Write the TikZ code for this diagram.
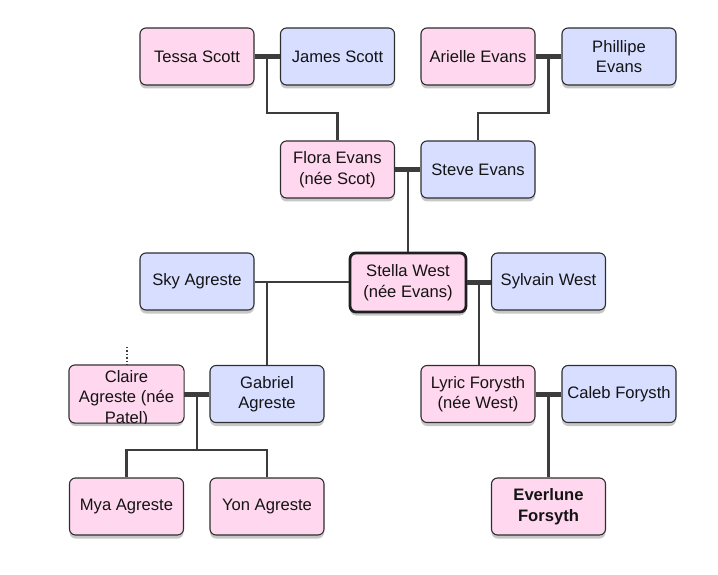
\documentclass[tikz,border=0pt]{standalone}
\usepackage{fontspec}
\setmainfont{Liberation Sans}
\usetikzlibrary{calc,shadows}
\definecolor{pinkf}{HTML}{FFD7EE}
\definecolor{bluef}{HTML}{D7DEFF}
\definecolor{edgec}{HTML}{2E2E2E}
\definecolor{linec}{HTML}{3C3C3C}
\definecolor{textc}{HTML}{141414}
\begin{document}
\begin{tikzpicture}[x=1pt,y=-1pt,
  person/.style={draw=edgec, line width=1.1pt, rounded corners=6pt,
    minimum width=114pt, minimum height=57pt, inner sep=0pt, align=center,
    text=textc, font=\fontsize{16.6}{20.5}\selectfont,
    drop shadow={shadow xshift=0pt, shadow yshift=-3.5pt, opacity=0.22, fill=black}},
  female/.style={person, fill=pinkf},
  male/.style={person, fill=bluef},
  focus/.style={line width=2.8pt, draw=black!88, minimum width=116pt, minimum height=59pt},
  couple/.style={draw=linec, line width=5pt},
  kin/.style={draw=linec, line width=2.2pt},
  weak/.style={draw=linec, line width=2pt}]
\useasboundingbox (0,0) rectangle (718,575);

% generation 1
\node[female] (tessa) at (197,56.5) {Tessa Scott};
\node[male] (james) at (337.5,56.5) {James Scott};
\node[female] (arielle) at (478,56.5) {Arielle Evans};
\node[male] (phillipe) at (619,56.5) {Phillipe\\Evans};
% generation 2
\node[female] (flora) at (337.5,169.5) {Flora Evans\\(née Scot)};
\node[male] (steve) at (478,169.5) {Steve Evans};
% generation 3
\node[male] (sky) at (197,281.5) {Sky Agreste};
\node[female, focus] (stella) at (408,282.5) {Stella West\\(née Evans)};
\node[male] (sylvain) at (548.5,281.5) {Sylvain West};
% generation 4
\node[female, draw=none] (claire) at (126.5,394) {};
\begin{scope}
  \clip[rounded corners=6pt] (claire.north west) rectangle (claire.south east);
  \node[align=center, text=textc, font=\fontsize{16.6}{20.5}\selectfont, inner sep=0pt] (clairetext) at (126.5,398.5) {Claire\\Agreste (née\\Patel)};
\end{scope}
\draw[draw=edgec, line width=1.1pt, rounded corners=6pt] (claire.north west) rectangle (claire.south east);
\node[male] (gabriel) at (267,394) {Gabriel\\Agreste};
\node[female] (lyric) at (478,394) {Lyric Forysth\\(née West)};
\node[male] (caleb) at (619,394) {Caleb Forysth};
% generation 5
\node[female] (mya) at (126.5,506.5) {Mya Agreste};
\node[female] (yon) at (267,506.5) {Yon Agreste};
\node[female, font=\fontsize{16.6}{20.5}\selectfont\bfseries] (ever) at (548.5,506.5) {Everlune\\Forsyth};

% junction coordinates
\coordinate (m1) at ($(tessa.east)!0.5!(james.west)$);
\coordinate (m2) at ($(arielle.east)!0.5!(phillipe.west)$);
\coordinate (m3) at ($(flora.east)!0.5!(steve.west)$);
\coordinate (m4) at ($(stella.east)!0.5!(sylvain.west)$);
\coordinate (m5) at ($(claire.east)!0.5!(gabriel.west)$);
\coordinate (m6) at ($(lyric.east)!0.5!(caleb.west)$);
\coordinate (dottop) at (127,347);

% child lines (drawn first)
\draw[kin] (m1) -- (m1 |- 0,113) -- (flora.north |- 0,113) -- (flora.north);
\draw[kin] (m2) -- (m2 |- 0,113) -- (steve.north |- 0,113) -- (steve.north);
\draw[kin] (m3) -- (m3 |- stella.north);
\draw[kin] (m4) -- (m4 |- lyric.north);
\draw[weak] (sky.east) -- (stella.west |- sky.east);
\draw[kin] (gabriel.north |- sky.east) -- (gabriel.north);
\draw[kin] (m5) -- (m5 |- 0,450) -- (mya.north |- 0,450) -- (mya.north);
\draw[kin] (m5 |- 0,450) -- (yon.north |- 0,450) -- (yon.north);
\draw[kin] (m6) -- (m6 |- ever.north);
\draw[draw=linec, line width=1.4pt, dotted] (dottop) -- (claire.north -| dottop);

% couple lines
\draw[couple] (tessa.east) -- (james.west);
\draw[couple] (arielle.east) -- (phillipe.west);
\draw[couple] (flora.east) -- (steve.west);
\draw[couple] (stella.east) -- (sylvain.west |- stella.east);
\draw[couple] (claire.east) -- (gabriel.west);
\draw[couple] (lyric.east) -- (caleb.west);
\end{tikzpicture}
\end{document}
